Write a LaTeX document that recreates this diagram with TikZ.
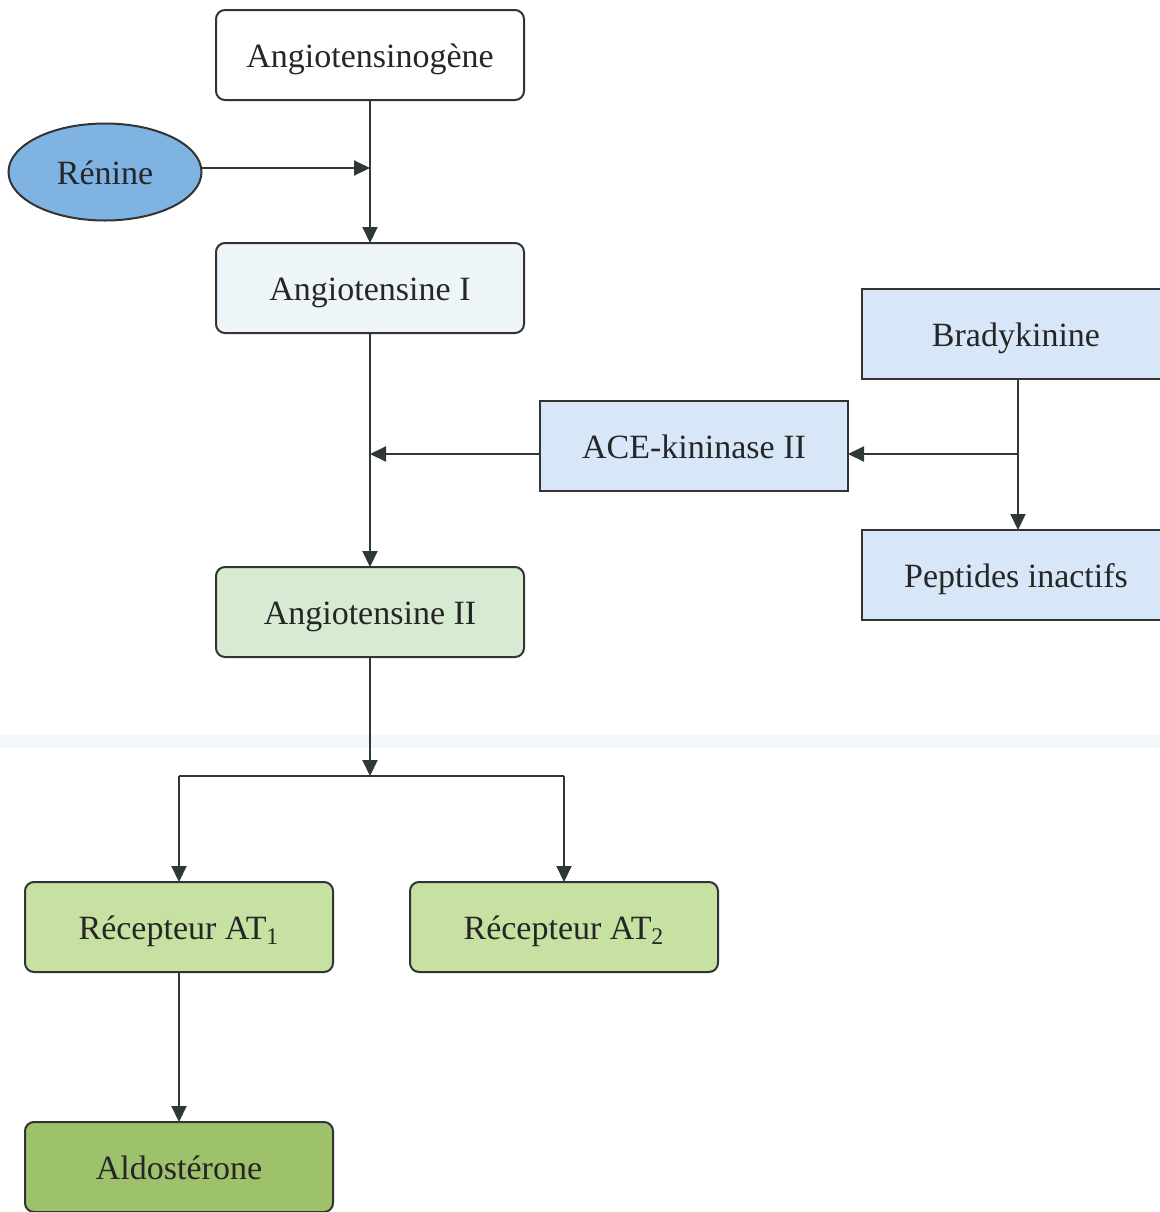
\documentclass[tikz,border=0pt]{standalone}
\usepackage{fontspec}
\setmainfont{Liberation Serif}
\usetikzlibrary{arrows.meta,shapes.geometric}
\definecolor{linec}{HTML}{2E3838}
\definecolor{bordc}{HTML}{333333}
\definecolor{renc}{HTML}{7EB3E2}
\definecolor{angIc}{HTML}{EEF5F8}
\definecolor{bradc}{HTML}{D8E7F8}
\definecolor{angIIc}{HTML}{D6EBD2}
\definecolor{atc}{HTML}{C6E1A2}
\definecolor{aldoc}{HTML}{9EC16C}
\definecolor{bandc}{HTML}{F3F7FC}
\tikzset{
  box/.style={draw=bordc, line width=1pt, rounded corners=4.5pt, minimum width=154pt, minimum height=45pt, inner sep=0pt, outer sep=0pt, text height=12.5pt, text depth=0pt, font=\fontsize{17}{20}\selectfont, text=black!85},
  sqbox/.style={box, rounded corners=0pt},
  arr/.style={draw=linec, line width=1pt, -{Triangle[length=8pt,width=7.5pt]}},
  ln/.style={draw=linec, line width=1pt}
}
\begin{document}
\begin{tikzpicture}[x=0.5pt,y=-0.5pt]
\useasboundingbox (0,0) rectangle (1160,1212);
\clip (0,0) rectangle (1160,1212);
\fill[bandc] (0,735) rectangle (1160,748);
\node[box, fill=white] (ago) at (370,55) {Angiotensinog\`ene};
\node[ellipse, draw=bordc, line width=1pt, fill=renc, minimum width=96.5pt, minimum height=48.5pt, inner sep=0pt, outer sep=0pt, text height=12.5pt, text depth=0pt, font=\fontsize{17}{20}\selectfont, text=black!85] (ren) at (105,172) {Rénine};
\node[box, fill=angIc] (a1) at (370,288) {Angiotensine I};
\node[sqbox, fill=bradc] (brad) at (1016,334) {Bradykinine};
\node[sqbox, fill=bradc] (ace) at (694,446) {ACE-kininase II};
\node[sqbox, fill=bradc] (pep) at (1016,575) {Peptides inactifs};
\node[box, fill=angIIc] (a2) at (370,612) {Angiotensine II};
\node[box, fill=atc] (at1) at (179,927) {Récepteur AT\textsubscript{1}};
\node[box, fill=atc] (at2) at (564,927) {Récepteur AT\textsubscript{2}};
\node[box, fill=aldoc] (ald) at (179,1167) {Aldostérone};
\coordinate (jr) at (370,168);
\coordinate (k) at (1018,454);
\coordinate (ja) at (370,454);
\coordinate (jb) at (370,776);
\coordinate (jl) at (179,776);
\coordinate (jrr) at (564,776);
\draw[arr] (ago.south) -- (a1.north);
\draw[arr] (ren.east |- jr) -- (jr);
\draw[arr] (a1.south) -- (a2.north);
\draw[arr] (brad.south -| k) -- (pep.north -| k);
\draw[arr] (k) -- (k -| ace.east);
\draw[arr] (ace.west |- k) -- (ja);
\draw[arr] (a2.south) -- (jb);
\draw[ln] (jl) -- (jrr);
\draw[arr] (jl) -- (at1.north);
\draw[arr] (jrr) -- (at2.north);
\draw[arr] (at1.south) -- (ald.north);
\end{tikzpicture}
\end{document}
